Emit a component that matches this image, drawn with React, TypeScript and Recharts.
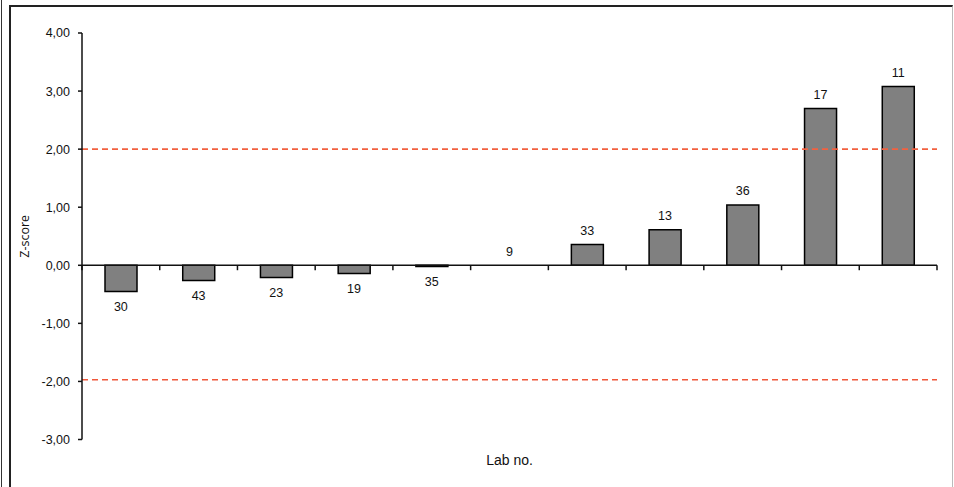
import {
  Bar,
  BarChart,
  ReferenceDot,
  ReferenceLine,
  XAxis,
  YAxis,
} from 'recharts'

const LABS = ['30', '43', '23', '19', '35', '9', '33', '13', '36', '17', '11']
const Z_SCORES = [-0.45, -0.26, -0.21, -0.14, -0.02, 0, 0.36, 0.61, 1.04, 2.7, 3.08]
const Y_TICKS = [-3, -2, -1, 0, 1, 2, 3, 4]
const BOUNDARIES = [0, 1, 2, 3, 4, 5, 6, 7, 8, 9, 10, 11]
const UPPER_LIMIT = 2
const LOWER_LIMIT = -1.97

const FONT = '"Liberation Sans", Arial, sans-serif'

const data = LABS.map((lab, i) => ({ pos: i + 0.5, lab, z: Z_SCORES[i] }))

const fmt = (v: number) => v.toFixed(2).replace('.', ',')

// label sits just above the bar end (or below it for negative bars)
function barLabel(text: string, neg: boolean) {
  return (props: any) => {
    const vb = props.viewBox || {}
    const cx = vb.x + (vb.width || 0) / 2
    const cy = vb.y + (vb.height || 0) / 2
    return (
      <text
        x={cx}
        y={neg ? cy + 15.5 : cy - 13.5}
        textAnchor="middle"
        dominantBaseline="central"
        fontFamily={FONT}
        fontSize={12.5}
        fill="#111"
      >
        {text}
      </text>
    )
  }
}

export default function App() {
  return (
    <div style={{ position: 'fixed', left: 0, top: 0, width: 954, height: 487, background: '#fff', overflow: 'hidden' }}>
      <div style={{ position: 'absolute', left: 1, top: 0, width: 1, height: 487, background: '#333' }} />
      <div
        style={{
          position: 'absolute',
          left: 9,
          top: 5,
          width: 941,
          height: 500,
          borderTop: '2px solid #222',
          borderLeft: '2px solid #222',
          borderRight: '1px solid #bbb',
        }}
      />
      <div style={{ position: 'absolute', left: 0, top: 0 }}>
        <BarChart width={954} height={487} data={data} margin={{ top: 33, right: 17, bottom: 0, left: 10 }}>
          <XAxis
            dataKey="pos"
            type="number"
            domain={[0, 11]}
            ticks={BOUNDARIES}
            tick={false}
            tickLine={false}
            axisLine={false}
            height={47.5}
            label={{ value: 'Lab no.', position: 'center', dy: -3, fill: '#111', fontSize: 14, fontFamily: FONT }}
          />
          <YAxis
            type="number"
            domain={[-3, 4]}
            ticks={Y_TICKS}
            interval={0}
            width={72}
            tickFormatter={fmt}
            tickSize={4}
            tickMargin={8}
            axisLine={{ stroke: '#111', strokeWidth: 1.5 }}
            tickLine={{ stroke: '#111', strokeWidth: 1.5 }}
            tick={{ fill: '#111', fontSize: 12.5, fontFamily: FONT }}
            label={{ value: 'Z-score', angle: -90, position: 'center', dx: -21, fill: '#111', fontSize: 12.5, fontFamily: '"Open Sans", sans-serif' }}
          />
          <ReferenceLine y={UPPER_LIMIT} stroke="#f2603f" strokeWidth={1.6} strokeDasharray="6 4" />
          <ReferenceLine y={LOWER_LIMIT} stroke="#f0573a" strokeWidth={1.5} strokeDasharray="6 4" />
          <Bar dataKey="z" fill="#808080" stroke="#000" strokeWidth={1.5} barSize={32} isAnimationActive={false} />
          <ReferenceLine y={0} stroke="#111" strokeWidth={1.5} />
          {BOUNDARIES.map((b) => (
            <ReferenceLine
              key={b}
              segment={[
                { x: b, y: 0 },
                { x: b, y: -0.085 },
              ]}
              stroke="#111"
              strokeWidth={1.5}
            />
          ))}
          {data.map((d) => (
            <ReferenceDot
              key={d.lab}
              x={d.pos}
              y={d.z}
              r={0}
              fill="none"
              stroke="none"
              label={barLabel(d.lab, d.z < 0)}
            />
          ))}
        </BarChart>
      </div>
    </div>
  )
}
